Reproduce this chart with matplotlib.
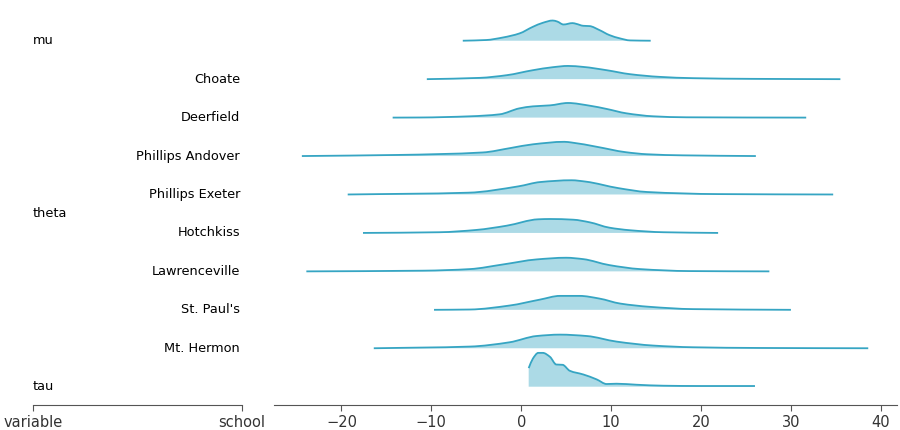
import matplotlib
matplotlib.use("Agg")
import matplotlib.pyplot as plt
from matplotlib.path import Path
from matplotlib.patches import PathPatch
import numpy as np

# Rows from top to bottom
variables = ["mu", "theta", "tau"]
schools = ["Choate", "Deerfield", "Phillips Andover", "Phillips Exeter",
           "Hotchkiss", "Lawrenceville", "St. Paul's", "Mt. Hermon"]

# Density curves (x value, relative density)
mu_x = [-6.5, -3.9, -2.0, -0.2, 1.3, 2.4, 3.5, 4.0, 4.7, 5.7, 6.1, 6.9, 7.6, 8.7, 9.8, 11.0, 12.1, 14.4]
mu_d = [0, 0.7, 3.3, 7.3, 14, 18, 20.3, 19.3, 16.3, 17.7, 17, 15, 14.7, 10.7, 5.7, 2.3, 0.3, 0]

choate_x = [-10.5, -4.6, -1.6, 1.3, 3.5, 5.2, 6.9, 9.5, 12.1, 15.4, 19.1, 25.8, 35.5]
choate_d = [0, 1.3, 4, 9, 12, 13.3, 12.3, 9, 5, 2.3, 1, 0.3, 0]

deerfield_x = [-14.3, -11.3, -5.7, -2.4, -0.2, 1.3, 3.2, 5.2, 7.6, 9.5, 11.7, 14.7, 18.4, 31.7]
deerfield_d = [0, 0.1, 1.3, 3.3, 9.3, 11.3, 12.3, 14.7, 12, 8.7, 4.3, 1.3, 0.3, 0]

andover_x = [-24.4, -13.8, -4.3, -1.1, 1.3, 4.8, 5.6, 8.4, 11.6, 14.0, 18.0, 26.1]
andover_d = [0, 1.1, 3.6, 8.2, 11.8, 14.3, 13.6, 9.3, 3.9, 1.8, 0.7, 0]

exeter_x = [-19.3, -5.9, -0.3, 2.1, 5.6, 7.2, 10.8, 14.0, 21.9, 34.7]
exeter_d = [0, 1.8, 8.2, 12.5, 14.3, 12.9, 6.4, 2.5, 0.4, 0]

hotchkiss_x = [-17.6, -9.1, -5.0, -1.6, 1.9, 3.2, 5.8, 7.6, 9.8, 12.1, 15.8, 21.9]
hotchkiss_d = [0, 0.7, 3, 7.3, 13.7, 14, 13.3, 10.7, 5.3, 2.7, 0.7, 0]

lawrenceville_x = [-23.9, -10.9, -5.7, -2.0, 1.7, 5.0, 6.9, 9.8, 13.2, 18.7, 27.6]
lawrenceville_d = [0, 0.7, 2.3, 7, 12, 13.7, 12.3, 6.3, 2.3, 0.3, 0]

stpauls_x = [-9.7, -5.7, -1.3, 2.1, 4.3, 6.5, 8.7, 11.0, 14.3, 19.1, 30.0]
stpauls_d = [0, 0.3, 4.3, 10.3, 14, 14, 11.3, 6.3, 3, 0.7, 0]

hermon_x = [-16.4, -5.7, -1.3, 1.7, 4.3, 7.3, 10.6, 14.7, 19.1, 26.5, 38.6]
hermon_d = [0, 1.7, 6, 12.3, 13.7, 12.3, 6.7, 2.7, 1, 0.3, 0]

tau_x = [0.83, 1.3, 1.9, 2.4, 3.2, 3.9, 4.6, 5.4, 6.9, 8.4, 9.5, 10.6, 12.8, 15.8, 19.9, 26.0]
tau_d = [18.7, 28.3, 34, 34, 30, 22.3, 22, 16, 12.3, 7.3, 2.7, 3, 2, 1, 0.7, 0.7]

curves = [(mu_x, mu_d), (choate_x, choate_d), (deerfield_x, deerfield_d),
          (andover_x, andover_d), (exeter_x, exeter_d), (hotchkiss_x, hotchkiss_d),
          (lawrenceville_x, lawrenceville_d), (stpauls_x, stpauls_d),
          (hermon_x, hermon_d), (tau_x, tau_d)]

xticks = [-20, -10, 0, 10, 20, 30, 40]

line_color = "#36a5c3"
fill_color = "#acdae6"
overlap = 0.88


def monotone_slopes(x, y):
    """Fritsch-Carlson tangents (no overshoot) used to render a smooth path."""
    h = np.diff(x)
    delta = np.diff(y) / h
    m = np.zeros_like(y)
    m[0] = delta[0]
    m[-1] = delta[-1]
    for k in range(1, len(x) - 1):
        if delta[k - 1] * delta[k] <= 0:
            m[k] = 0.0
        else:
            w1 = 2 * h[k] + h[k - 1]
            w2 = h[k] + 2 * h[k - 1]
            m[k] = (w1 + w2) / (w1 / delta[k - 1] + w2 / delta[k])
    return m


def smooth_vertices(x, y):
    m = monotone_slopes(x, y)
    verts = [(x[0], y[0])]
    codes = [Path.MOVETO]
    for k in range(len(x) - 1):
        h = x[k + 1] - x[k]
        verts += [(x[k] + h / 3, y[k] + m[k] * h / 3),
                  (x[k + 1] - h / 3, y[k + 1] - m[k + 1] * h / 3),
                  (x[k + 1], y[k + 1])]
        codes += [Path.CURVE4] * 3
    return verts, codes


fig = plt.figure(figsize=(9, 4.3), dpi=100)
bottom = (430 - 405) / 430
top = (430 - 4) / 430
ax = fig.add_axes([274 / 900, bottom, (897 - 274) / 900, top - bottom])
axl = fig.add_axes([33 / 900, bottom, (242 - 33) / 900, top - bottom], sharey=ax)

n = len(curves)
ymax = max(max(d) for _, d in curves)
for i, (xs, ds) in enumerate(curves):
    base = n - 1 - i
    xs = np.asarray(xs, float)
    ys = np.asarray(ds, float) / ymax * overlap + base
    verts, codes = smooth_vertices(xs, ys)
    fverts = verts + [(xs[-1], base), (xs[0], base), (xs[0], base)]
    fcodes = codes + [Path.LINETO, Path.LINETO, Path.CLOSEPOLY]
    ax.add_patch(PathPatch(Path(fverts, fcodes), facecolor=fill_color, lw=0, zorder=1))
    ax.add_patch(PathPatch(Path(verts, codes), facecolor="none", edgecolor=line_color,
                           lw=1.3, zorder=2))

ax.set_xlim(-27.5, 41.8)
ax.set_ylim(-0.476, 9.955)
ax.set_xticks(xticks)
ax.set_xticklabels([f"\u2212{abs(t)}" if t < 0 else str(t) for t in xticks])
ax.set_yticks([])
for s in ["left", "top", "right"]:
    ax.spines[s].set_visible(False)
ax.spines["bottom"].set_color("#555555")
ax.tick_params(axis="x", labelsize=10.5, colors="#555555", labelcolor="#333333", length=4)

# Label axis
axl.set_xlim(0, 1)
axl.set_xticks([0, 1])
axl.set_xticklabels(["variable", "school"])
for s in ["left", "top", "right"]:
    axl.spines[s].set_visible(False)
axl.spines["bottom"].set_color("#555555")
axl.tick_params(axis="x", labelsize=10.5, colors="#555555", labelcolor="#333333", length=4)
axl.tick_params(axis="y", left=False, labelleft=False)

label_size = 9.3
axl.text(0, n - 1, variables[0], ha="left", va="center", fontsize=label_size)
for j, s in enumerate(schools):
    axl.text(0.99, n - 2 - j, s, ha="right", va="center", fontsize=label_size)
axl.text(0, n - 1 - (1 + len(schools) / 2 - 0.5), variables[1], ha="left", va="center", fontsize=label_size)
axl.text(0, 0, variables[2], ha="left", va="center", fontsize=label_size)

fig.savefig("out.png", dpi=100)
